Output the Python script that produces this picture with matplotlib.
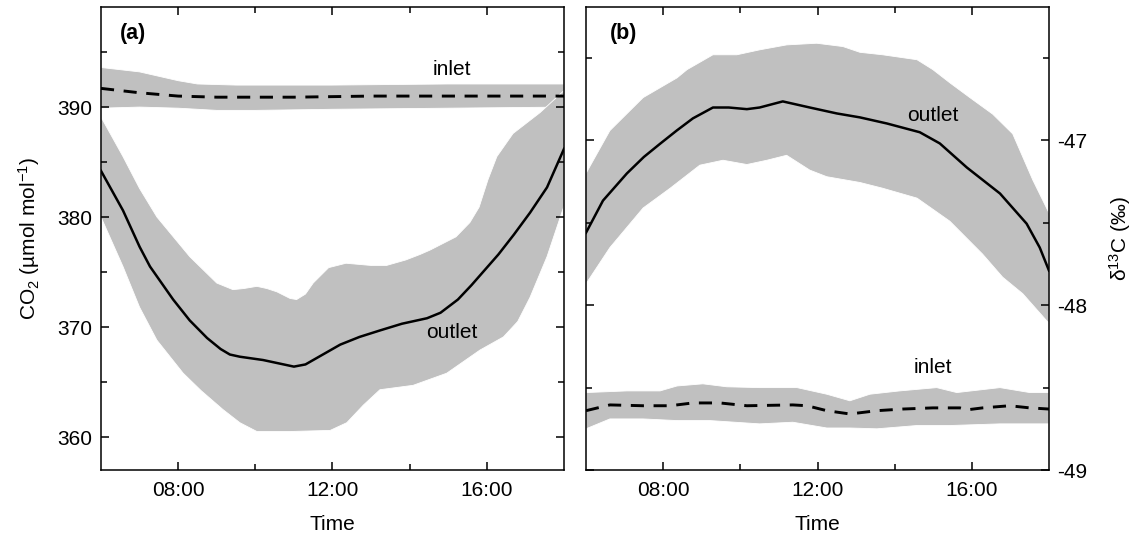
import matplotlib
matplotlib.use("Agg")
import matplotlib.pyplot as plt
from matplotlib.ticker import FixedLocator, FuncFormatter

plt.rcParams['font.family'] = ['Liberation Sans', 'DejaVu Sans']
plt.rcParams['mathtext.fontset'] = 'custom'
plt.rcParams['mathtext.rm'] = 'Liberation Sans'
plt.rcParams['mathtext.it'] = 'Liberation Sans:italic'
plt.rcParams['mathtext.bf'] = 'Liberation Sans:bold'

# ---------------- Panel (a): CO2 ----------------
a_inlet_h = [6.0, 6.5, 7.0, 7.5, 8.0, 8.5, 9.0, 10.0, 11.0, 12.0, 13.0, 14.0, 15.0, 16.0, 17.0, 18.0]
a_inlet_v = [391.7, 391.5, 391.3, 391.15, 391.0, 390.95, 390.9, 390.9, 390.9, 390.95, 391.0, 391.0, 391.0, 391.0, 391.0, 391.0]
a_inlet_up_h = [6.0, 7.0, 8.0, 8.5, 9.5, 12.0, 15.0, 18.0]
a_inlet_up_v = [393.6, 393.2, 392.4, 392.1, 392.0, 392.0, 392.1, 392.1]
a_inlet_lo_h = [6.0, 7.0, 8.0, 9.0, 10.0, 12.0, 15.0, 18.0]
a_inlet_lo_v = [389.9, 390.0, 389.9, 389.7, 389.7, 389.8, 389.9, 390.0]

a_out_h = [6.0, 6.57, 7.0, 7.27, 7.87, 8.3, 8.75, 9.1, 9.34, 9.6, 10.2, 10.6, 11.0, 11.3,
           11.5, 12.2, 12.7, 13.24, 13.8, 14.45, 14.8, 15.25, 15.6, 16.0, 16.3, 16.7,
           17.12, 17.56, 18.0]
a_out_v = [384.2, 380.6, 377.3, 375.5, 372.5, 370.6, 369.0, 368.0, 367.5, 367.3, 367.0, 366.7,
           366.4, 366.6, 367.0, 368.4, 369.1, 369.7, 370.3, 370.8, 371.3, 372.5, 373.8,
           375.4, 376.6, 378.4, 380.4, 382.7, 386.2]
a_out_up_h = [6.0, 6.57, 7.0, 7.45, 8.3, 9.0, 9.42, 9.7, 10.04, 10.3, 10.56, 10.9, 11.07,
              11.3, 11.5, 11.9, 12.35, 13.0, 13.4, 13.9, 14.27, 14.53, 15.2, 15.56, 15.8,
              16.03, 16.26, 16.68, 17.38, 18.0]
a_out_up_v = [389.1, 385.5, 382.6, 380.0, 376.4, 374.0, 373.4, 373.5, 373.7, 373.5, 373.2,
              372.6, 372.5, 373.0, 374.0, 375.4, 375.8, 375.6, 375.6, 376.1, 376.6, 377.0,
              378.2, 379.5, 380.9, 383.4, 385.5, 387.6, 389.5, 391.5]
a_out_lo_h = [6.0, 6.57, 7.0, 7.45, 8.13, 8.6, 9.16, 9.6, 10.04, 10.9, 11.94, 12.37, 12.8,
              13.23, 14.09, 14.96, 15.82, 16.43, 16.8, 17.12, 17.56, 18.0]
a_out_lo_v = [380.0, 375.5, 371.8, 368.8, 365.8, 364.2, 362.5, 361.3, 360.5, 360.5, 360.6,
              361.3, 362.9, 364.3, 364.7, 365.8, 367.9, 369.1, 370.5, 372.7, 376.4, 381.0]

# ---------------- Panel (b): delta13C ----------------
b_out_h = [6.0, 6.44, 7.06, 7.5, 7.92, 8.35, 8.77, 9.29, 9.7, 10.17, 10.5, 11.1, 11.8, 12.5,
           13.1, 13.8, 14.65, 15.17, 15.87, 16.73, 17.42, 17.76, 18.0]
b_out_v = [-47.56, -47.365, -47.2, -47.1, -47.02, -46.94, -46.866, -46.80, -46.80, -46.81,
           -46.80, -46.763, -46.80, -46.836, -46.86, -46.897, -46.95, -47.018, -47.164,
           -47.322, -47.505, -47.65, -47.79]
b_out_up_h = [6.0, 6.62, 7.48, 8.36, 8.62, 9.29, 9.91, 10.5, 11.2, 11.98, 12.66, 13.1, 13.69,
              14.58, 14.99, 15.43, 15.95, 16.54, 17.06, 17.58, 18.0]
b_out_up_v = [-47.2, -46.94, -46.74, -46.62, -46.57, -46.48, -46.48, -46.45, -46.42, -46.41,
              -46.43, -46.465, -46.48, -46.51, -46.57, -46.65, -46.74, -46.84, -46.96,
              -47.24, -47.44]
b_out_lo_h = [6.0, 6.62, 7.48, 8.18, 8.95, 9.55, 10.17, 10.69, 11.2, 11.8, 12.24, 13.1, 13.69,
              14.58, 15.43, 16.28, 16.8, 17.32, 18.0]
b_out_lo_v = [-47.87, -47.65, -47.41, -47.29, -47.15, -47.12, -47.146, -47.12, -47.09, -47.18,
              -47.22, -47.255, -47.29, -47.35, -47.49, -47.69, -47.83, -47.93, -48.11]

b_in_h = [6.0, 6.62, 7.48, 8.18, 8.77, 9.47, 10.17, 11.36, 11.73, 12.24, 12.84, 13.54, 14.21,
          14.99, 15.69, 15.87, 16.28, 16.98, 17.5, 18.0]
b_in_v = [-48.64, -48.605, -48.61, -48.61, -48.593, -48.593, -48.61, -48.605, -48.61, -48.64,
          -48.66, -48.64, -48.63, -48.623, -48.623, -48.635, -48.623, -48.61, -48.623, -48.63]
b_in_up_h = [6.0, 7.06, 7.92, 8.36, 9.03, 9.65, 10.5, 11.47, 12.24, 12.84, 13.36, 14.13, 15.09,
             15.61, 16.73, 17.5, 18.0]
b_in_up_v = [-48.53, -48.52, -48.52, -48.49, -48.477, -48.495, -48.50, -48.50, -48.54, -48.58,
             -48.54, -48.52, -48.50, -48.53, -48.50, -48.53, -48.53]
b_in_lo_h = [6.0, 6.62, 7.48, 8.36, 9.21, 10.5, 11.36, 12.24, 12.84, 13.54, 14.58, 15.43, 16.73, 18.0]
b_in_lo_v = [-48.75, -48.69, -48.69, -48.70, -48.70, -48.72, -48.71, -48.745, -48.745, -48.75,
             -48.73, -48.73, -48.72, -48.72]

x_major = [8, 12, 16]
x_minor = [10, 14]

BAND = '#c0c0c0'
FS = 15

fig = plt.figure(figsize=(11.35, 5.39), dpi=100)
axA = fig.add_axes([101/1135, 69/539, 463/1135, 463/539])
axB = fig.add_axes([586/1135, 69/539, 463/1135, 463/539])


def band(ax, uh, uv, lh, lv):
    xs = list(uh) + list(lh)[::-1]
    ys = list(uv) + list(lv)[::-1]
    ax.fill(xs, ys, color=BAND, ec='white', lw=0.6, zorder=1)


def fmt_time(v, pos):
    return "%02d:00" % int(round(v))


def style(ax):
    ax.set_xlim(6, 18)
    ax.xaxis.set_major_locator(FixedLocator(x_major))
    ax.xaxis.set_minor_locator(FixedLocator(x_minor))
    ax.xaxis.set_major_formatter(FuncFormatter(fmt_time))
    ax.tick_params(which='both', direction='in', top=True, bottom=True, left=True, right=True,
                   labelsize=FS, width=1.1)
    ax.tick_params(which='major', length=6)
    ax.tick_params(which='minor', length=4.5)
    ax.tick_params(axis='x', pad=8)
    ax.tick_params(axis='y', pad=6)
    for s in ax.spines.values():
        s.set_linewidth(1.1)
    ax.set_xlabel('Time', fontsize=FS)
    ax.xaxis.set_label_coords(0.5, -0.097)


# Panel a
band(axA, a_inlet_up_h, a_inlet_up_v, a_inlet_lo_h, a_inlet_lo_v)
band(axA, a_out_up_h, a_out_up_v, a_out_lo_h, a_out_lo_v)
axA.plot(a_inlet_h, a_inlet_v, color='black', lw=2.1, dashes=(4.5, 3.3), zorder=3)
axA.plot(a_out_h, a_out_v, color='black', lw=1.8, zorder=3)
style(axA)
axA.set_ylim(357, 399.1)
axA.yaxis.set_major_locator(FixedLocator([360, 370, 380, 390]))
axA.yaxis.set_minor_locator(FixedLocator([365, 375, 385, 395]))
axA.set_ylabel('CO$_2$ (µmol mol$^{-1}$)', fontsize=FS)
axA.yaxis.set_label_coords(-0.127, 0.5)
axA.text(15.1, 393.4, 'inlet', fontsize=FS, ha='center', va='center')
axA.text(15.1, 369.5, 'outlet', fontsize=FS, ha='center', va='center')
axA.text(0.041, 0.942, '(a)', transform=axA.transAxes, fontsize=15.5, fontweight='bold',
         ha='left', va='center')

# Panel b
band(axB, b_in_up_h, b_in_up_v, b_in_lo_h, b_in_lo_v)
band(axB, b_out_up_h, b_out_up_v, b_out_lo_h, b_out_lo_v)
axB.plot(b_in_h, b_in_v, color='black', lw=2.1, dashes=(4.5, 3.3), zorder=3)
axB.plot(b_out_h, b_out_v, color='black', lw=1.8, zorder=3)
style(axB)
axB.set_ylim(-49.0, -46.19)
axB.yaxis.set_major_locator(FixedLocator([-49, -48, -47]))
axB.yaxis.set_minor_locator(FixedLocator([-48.5, -47.5, -46.5]))
axB.yaxis.set_major_formatter(FuncFormatter(lambda v, p: "%d" % int(round(v))))
axB.tick_params(axis='y', labelleft=False, labelright=True)
axB.yaxis.set_label_position('right')
axB.set_ylabel('δ$^{13}$C (‰)', fontsize=FS, rotation=90)
axB.yaxis.set_label_coords(1.125, 0.5)
axB.text(15.0, -46.85, 'outlet', fontsize=FS, ha='center', va='center')
axB.text(15.0, -48.38, 'inlet', fontsize=FS, ha='center', va='center')
axB.text(0.052, 0.942, '(b)', transform=axB.transAxes, fontsize=15.5, fontweight='bold',
         ha='left', va='center')

fig.savefig('out.png', dpi=100)
